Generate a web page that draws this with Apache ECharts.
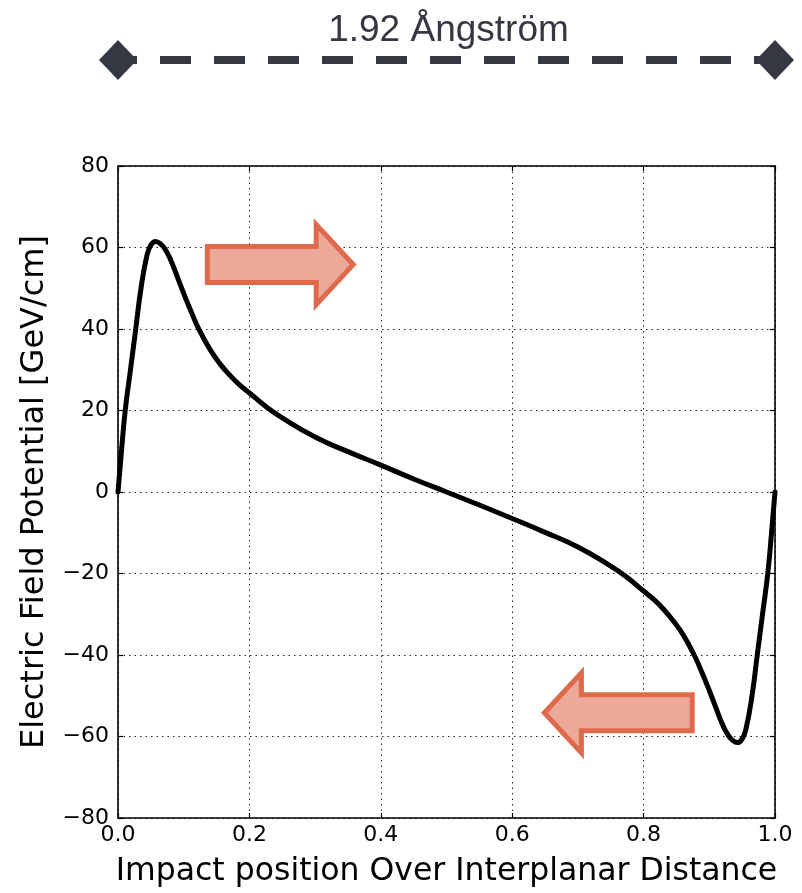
<!DOCTYPE html>
<html>
<head>
<meta charset="utf-8">
<script src="https://cdn.jsdelivr.net/npm/echarts@6/dist/echarts.min.js"></script>
<style>
  html, body { margin: 0; padding: 0; background: #ffffff; overflow: hidden; }
  #chart { width: 802px; height: 893px; }
</style>
</head>
<body>
<div id="chart"></div>
<script>
// Impact position (fraction of the interplanar distance)
const impactPosition = [
  0, 0.005, 0.011, 0.019, 0.027, 0.035, 0.044, 0.050, 0.057, 0.064,
  0.072, 0.080, 0.091, 0.100, 0.112, 0.123, 0.140, 0.155, 0.170, 0.185,
  0.200, 0.225, 0.250, 0.300, 0.350, 0.400, 0.450, 0.500, 0.550, 0.600,
  0.650, 0.700, 0.750, 0.775, 0.800, 0.815, 0.830, 0.845, 0.860, 0.877,
  0.888, 0.900, 0.909, 0.920, 0.928, 0.936, 0.943, 0.950, 0.956, 0.965,
  0.973, 0.981, 0.989, 0.995, 1.000
];
// Electric field potential in GeV/cm
const fieldPotential = [
  0, 9.5, 20, 30, 40, 50, 58, 60.6, 61.5, 61,
  59.5, 57, 52.5, 48.7, 44, 40, 35, 31.5, 28.7, 26.3,
  24.3, 21.0, 18.2, 13.5, 9.9, 6.6, 3.2, 0, -3.2, -6.5,
  -9.9, -13.5, -18.2, -21.0, -24.3, -26.3, -28.7, -31.6, -35, -40,
  -44, -48.7, -52.5, -57, -59.5, -61, -61.5, -60.6, -58, -50,
  -40, -30, -20, -9.5, 0
];
const xTicks = { min: 0, max: 1, step: 0.2 };
const yTicks = { min: -80, max: 80, step: 20 };
const spacingLabel = '1.92 Ångström';

const chart = echarts.init(document.getElementById('chart'), null, { renderer: 'canvas' });
const FONT = '"DejaVu Sans", sans-serif';
const INK = '#000000';

const gridDots = { color: '#000', width: 1, type: [1.5, 4], opacity: 0.85 };
const frameLine = { show: true, onZero: false, lineStyle: { color: INK, width: 1.6 } };
const innerTick = { show: true, inside: true, length: 5, lineStyle: { color: INK, width: 1.2 } };

chart.setOption({
  backgroundColor: '#ffffff',
  animation: false,
  grid: { left: 118, right: 27, top: 166, bottom: 70, containLabel: false },
  xAxis: [
    {
      type: 'value', min: xTicks.min, max: xTicks.max, interval: xTicks.step,
      name: 'Impact position Over Interplanar Distance',
      nameLocation: 'middle', nameGap: 38,
      nameTextStyle: { fontFamily: FONT, fontSize: 31.5, color: INK },
      axisLine: frameLine, axisTick: innerTick,
      axisLabel: { fontFamily: FONT, fontSize: 22, color: INK, margin: 6,
                   formatter: v => v.toFixed(1) },
      splitLine: { show: true, lineStyle: gridDots }
    },
    {
      type: 'value', position: 'top', min: xTicks.min, max: xTicks.max, interval: xTicks.step,
      axisLine: frameLine, axisTick: innerTick,
      axisLabel: { show: false }, splitLine: { show: false }
    }
  ],
  yAxis: [
    {
      type: 'value', min: yTicks.min, max: yTicks.max, interval: yTicks.step,
      name: 'Electric Field Potential [GeV/cm]',
      nameLocation: 'middle', nameGap: 67, nameRotate: 90,
      nameTextStyle: { fontFamily: FONT, fontSize: 32, color: INK },
      axisLine: frameLine, axisTick: innerTick,
      axisLabel: { fontFamily: FONT, fontSize: 22, color: INK, margin: 9,
                   formatter: v => String(v).replace('-', '\u2212') },
      splitLine: { show: true, lineStyle: gridDots }
    },
    {
      type: 'value', position: 'right', min: yTicks.min, max: yTicks.max, interval: yTicks.step,
      axisLine: frameLine, axisTick: innerTick,
      axisLabel: { show: false }, splitLine: { show: false }
    }
  ],
  series: [{
    type: 'line',
    xAxisIndex: 0, yAxisIndex: 0,
    data: impactPosition.map((x, i) => [x, fieldPotential[i]]),
    showSymbol: false,
    smooth: 0.5,
    lineStyle: { color: INK, width: 5, cap: 'round', join: 'round' },
    z: 5
  }]
});

// ---- annotations: drift arrows and the lattice spacing bar ----
const toPx = (x, y) => chart.convertToPixel({ gridIndex: 0 }, [x, y]);

// block arrow with its tail at (x0,y) pointing toward x1, in data units
function blockArrow(x0, x1, y) {
  const a = toPx(x0, y), b = toPx(x1, y);
  const dir = Math.sign(b[0] - a[0]);
  const cy = a[1];
  const bodyHalf = 18, headHalf = 40, headLen = 37;
  const base = b[0] - dir * headLen;
  return {
    type: 'polygon',
    shape: { points: [
      [a[0], cy - bodyHalf], [base, cy - bodyHalf], [base, cy - headHalf],
      [b[0], cy], [base, cy + headHalf], [base, cy + bodyHalf], [a[0], cy + bodyHalf]
    ] },
    style: { fill: '#eca99a', stroke: '#df6a4b', lineWidth: 5, lineJoin: 'miter' },
    z: 10
  };
}

const barLeft = toPx(0, 0)[0];
const barRight = toPx(1, 0)[0];
const barY = 60;
const BAR = '#353743';
function diamond(cx) {
  return {
    type: 'polygon',
    shape: { points: [[cx - 19, barY], [cx, barY - 20], [cx + 19, barY], [cx, barY + 20]] },
    style: { fill: BAR }, z: 12
  };
}

chart.setOption({
  graphic: [
    blockArrow(0.136, 0.358, 55.8),
    blockArrow(0.874, 0.649, -54.2),
    {
      type: 'line',
      shape: { x1: barLeft, y1: barY, x2: barRight, y2: barY },
      style: { stroke: BAR, lineWidth: 8, lineDash: [31, 23], lineDashOffset: 12 },
      z: 11
    },
    diamond(barLeft),
    diamond(barRight),
    {
      type: 'text',
      x: (barLeft + barRight) / 2 + 2, y: 31,
      style: {
        text: spacingLabel, fill: BAR,
        font: '37px "Liberation Sans", Arial, sans-serif',
        align: 'center', verticalAlign: 'middle'
      },
      z: 12
    }
  ]
});
</script>
</body>
</html>
